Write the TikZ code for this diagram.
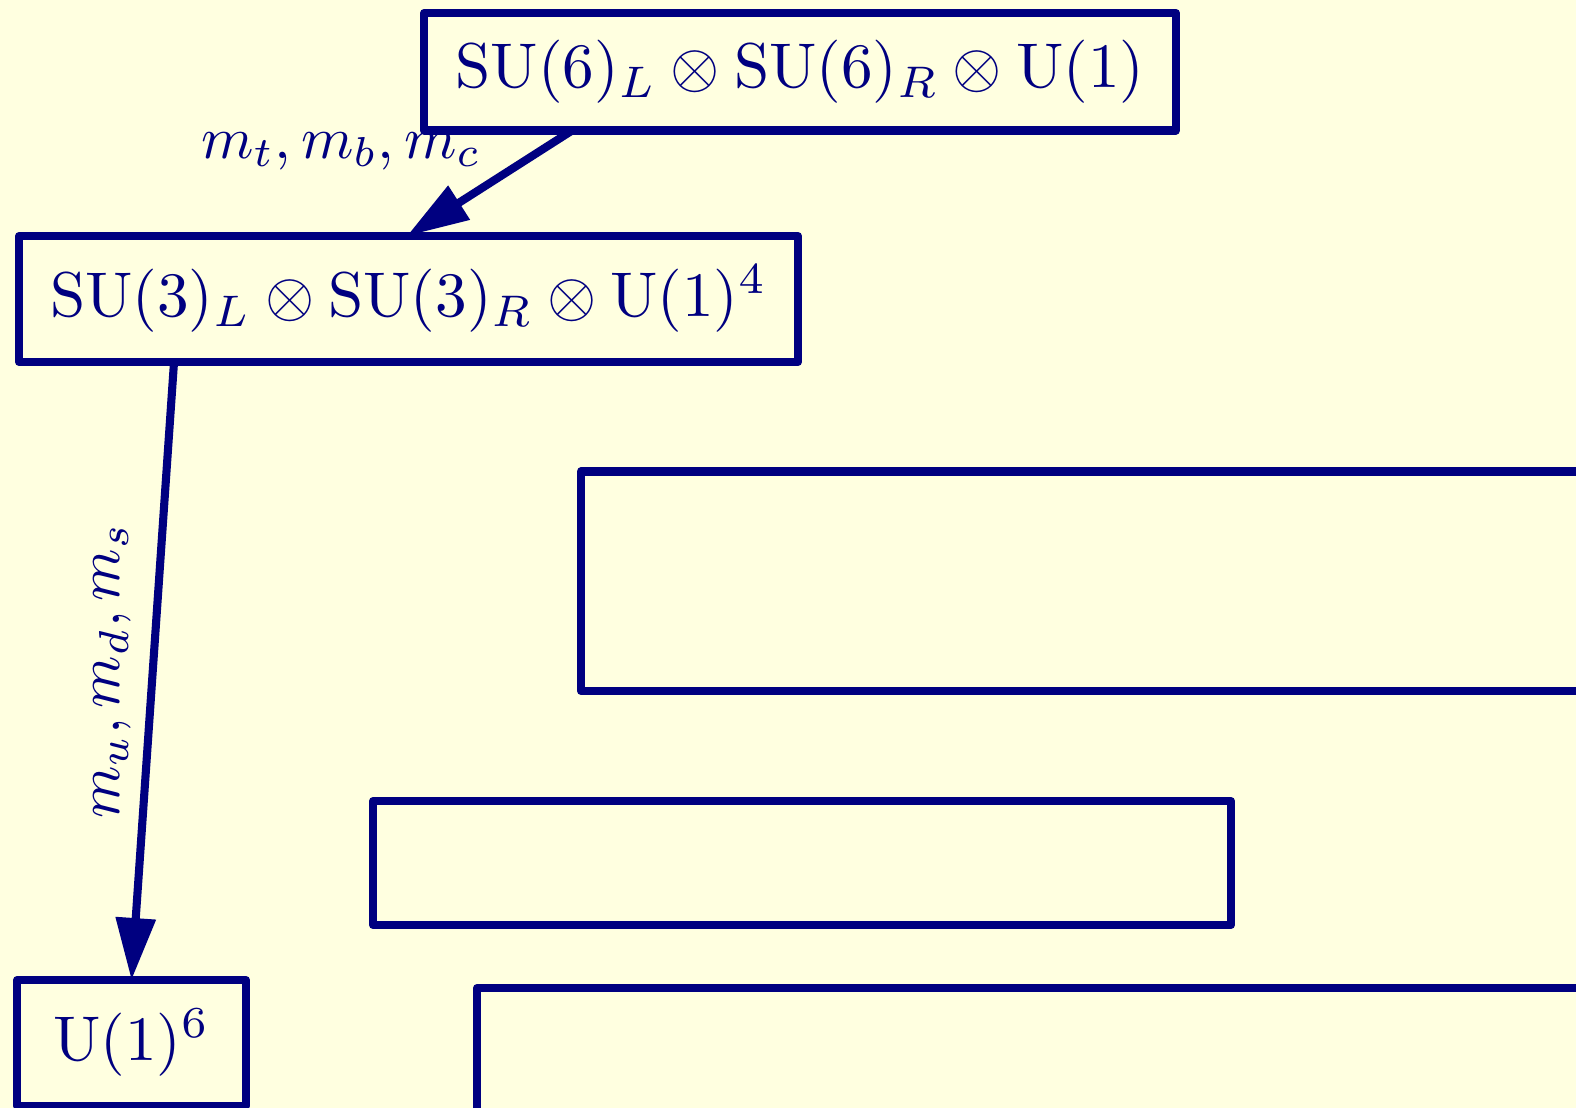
\documentclass[tikz,border=0pt]{standalone}
\usetikzlibrary{arrows.meta,calc}
\definecolor{navy}{RGB}{0,0,128}
\definecolor{paper}{RGB}{255,255,224}
\begin{document}
\begin{tikzpicture}[x=0.1582pt,y=-0.1582pt,
  grp/.style={draw=navy,line width=1.28pt,line join=round,inner sep=0pt,outer sep=0pt,text=navy},
  flow/.style={draw=navy,line width=1.28pt,-{Triangle[length=9.8pt,width=6.1pt]}},
  lbl/.style={text=navy,inner sep=0pt,scale=0.945,transform shape}]
% canvas
\fill[paper] (0,0) rectangle (1576,1108);
\useasboundingbox (0,0) rectangle (1576,1108);
\begin{scope}
\clip (0,0) rectangle (1576,1108);
% symmetry groups
\node[grp,minimum width={752*0.1582pt},minimum height={117.5*0.1582pt}] (top) at (800,71.75)
  {$\mathrm{SU}(6)_L\otimes\mathrm{SU}(6)_R\otimes\mathrm{U}(1)$};
\node[grp,minimum width={779*0.1582pt},minimum height={126*0.1582pt}] (mid) at (408.5,299)
  {$\mathrm{SU}(3)_L\otimes\mathrm{SU}(3)_R\otimes\mathrm{U}(1)^4$};
\node[grp,minimum width={229*0.1582pt},minimum height={126*0.1582pt}] (low) at (131.5,1043)
  {$\mathrm{U}(1)^6$};
% empty frames
\node[grp,minimum width={1119*0.1582pt},minimum height={219.5*0.1582pt}] (frameA) at (1140.5,581.25) {};
\node[grp,minimum width={858*0.1582pt},minimum height={124*0.1582pt}] (frameB) at (802,863) {};
\node[grp,minimum width={1223*0.1582pt},minimum height={240*0.1582pt}] (frameC) at (1088.5,1108) {};
% breaking steps
\draw[flow] ($(top.south west)!0.197!(top.south east)$) -- ($(mid.north west)!0.498!(mid.north east)$);
\draw[flow] ($(mid.south west)!0.199!(mid.south east)$) -- (low.north);
\node[lbl] (mtbc) at (341,151) {$m_t, m_b, m_c$};
\node[lbl,rotate=90] (muds) at (112,671) {$m_u, m_d, m_s$};
\end{scope}
\end{tikzpicture}
\end{document}
